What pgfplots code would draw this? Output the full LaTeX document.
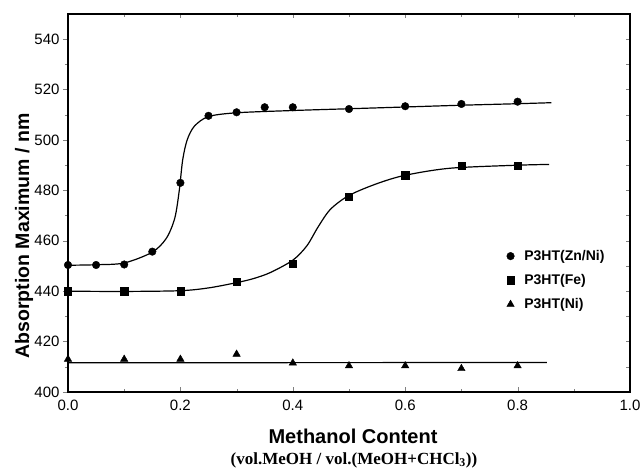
\documentclass[border=0pt]{standalone}
\usepackage{fontspec}
\setmainfont{Liberation Sans}
\newfontfamily\timesfont{Liberation Serif}
\usepackage{pgfplots}
\pgfplotsset{compat=1.18}

\pgfplotsset{
  frame/.style={scale only axis, width=562pt, height=378pt,
    xmin=0, xmax=1, ymin=400, ymax=550, at={(0pt,0pt)}, anchor=south west,
    axis line style={line width=1.1pt}, clip=false},
  ticknum/.style={font=\fontsize{15}{17}\selectfont,
    /pgf/number format/assume math mode=true},
}

\begin{document}
\begin{tikzpicture}
\path[use as bounding box] (-68pt,-79pt) rectangle (573pt,392pt);

% left y axis: ticks outside, labels
\begin{axis}[frame, hide x axis, ytick pos=left, tick align=outside,
  ytick={400,420,...,540}, minor y tick num=1,
  major tick length=5pt, minor tick length=3pt,
  yticklabel style={ticknum}]
\end{axis}

\begin{axis}[frame, tick align=inside,
  ytick pos=right, ytick={410,420,...,540}, yticklabels={},
  xtick={0,0.2,...,1}, minor x tick num=1,
  major tick length=4.5pt, minor tick length=3pt,
  xticklabel style={ticknum, yshift=-4pt, /pgf/number format/.cd, fixed, fixed zerofill, precision=1},
  legend style={draw=none, fill=none, at={(0.775,0.386)}, anchor=north west,
    font=\bfseries\fontsize{14}{16}\selectfont, row sep=8.5pt,
    /tikz/every odd column/.append style={column sep=8pt}},
  legend cell align=left]

% fitted curves
\addplot[black, line width=1.2pt, smooth, forget plot] coordinates {
  (0,450.3) (0.05,450.5) (0.1,451.2) (0.15,455.5) (0.175,461) (0.19,469)
  (0.198,480) (0.204,492) (0.212,500) (0.225,505.5) (0.25,509.3) (0.3,510.8)
  (0.4,511.7) (0.5,512.4) (0.6,513.1) (0.7,513.8) (0.8,514.4) (0.86,514.8)};
\addplot[black, line width=1.2pt, smooth, forget plot] coordinates {
  (0,440) (0.1,439.9) (0.2,440.2) (0.25,441.3) (0.3,443.4) (0.33,445)
  (0.36,447.4) (0.4,452.3) (0.425,458) (0.445,465.5) (0.467,472.5) (0.5,478)
  (0.55,482.7) (0.6,486) (0.68,488.8) (0.8,490) (0.856,490.3)};
\addplot[black, line width=1.2pt, forget plot] coordinates {
  (0,411.6) (0.852,411.7)};

% measured points
\addplot[only marks, mark=*, mark size=3.8pt, black] coordinates {
  (0,450.4) (0.05,450.4) (0.1,450.6) (0.15,455.7) (0.2,483) (0.25,509.6)
  (0.3,511) (0.35,513) (0.4,513) (0.5,512.3) (0.6,513.4) (0.7,514.3) (0.8,515.2)};
\addlegendentry{P3HT(Zn/Ni)}
\addplot[only marks, mark=square*, mark size=3.6pt, black] coordinates {
  (0,440) (0.1,440) (0.2,440) (0.3,443.7) (0.4,450.8) (0.5,477.5)
  (0.6,486) (0.7,489.7) (0.8,489.9)};
\addlegendentry{P3HT(Fe)}
\addplot[only marks, mark=triangle*, mark size=4.3pt, black] coordinates {
  (0,413) (0.1,413) (0.2,413) (0.3,415) (0.4,411.5) (0.5,410.4)
  (0.6,410.4) (0.7,409.3) (0.8,410.4)};
\addlegendentry{P3HT(Ni)}
\end{axis}

\node[rotate=90, font=\bfseries\fontsize{19.5}{23}\selectfont] at (-44pt,156pt)
  {Absorption Maximum / nm};
\node[font=\bfseries\fontsize{20}{24}\selectfont] at (285pt,-44pt)
  {Methanol Content};
\node[font=\timesfont\bfseries\fontsize{17}{20}\selectfont] at (286pt,-68pt)
  {(vol.MeOH / vol.(MeOH+CHCl\textsubscript{3}))};
\end{tikzpicture}
\end{document}
